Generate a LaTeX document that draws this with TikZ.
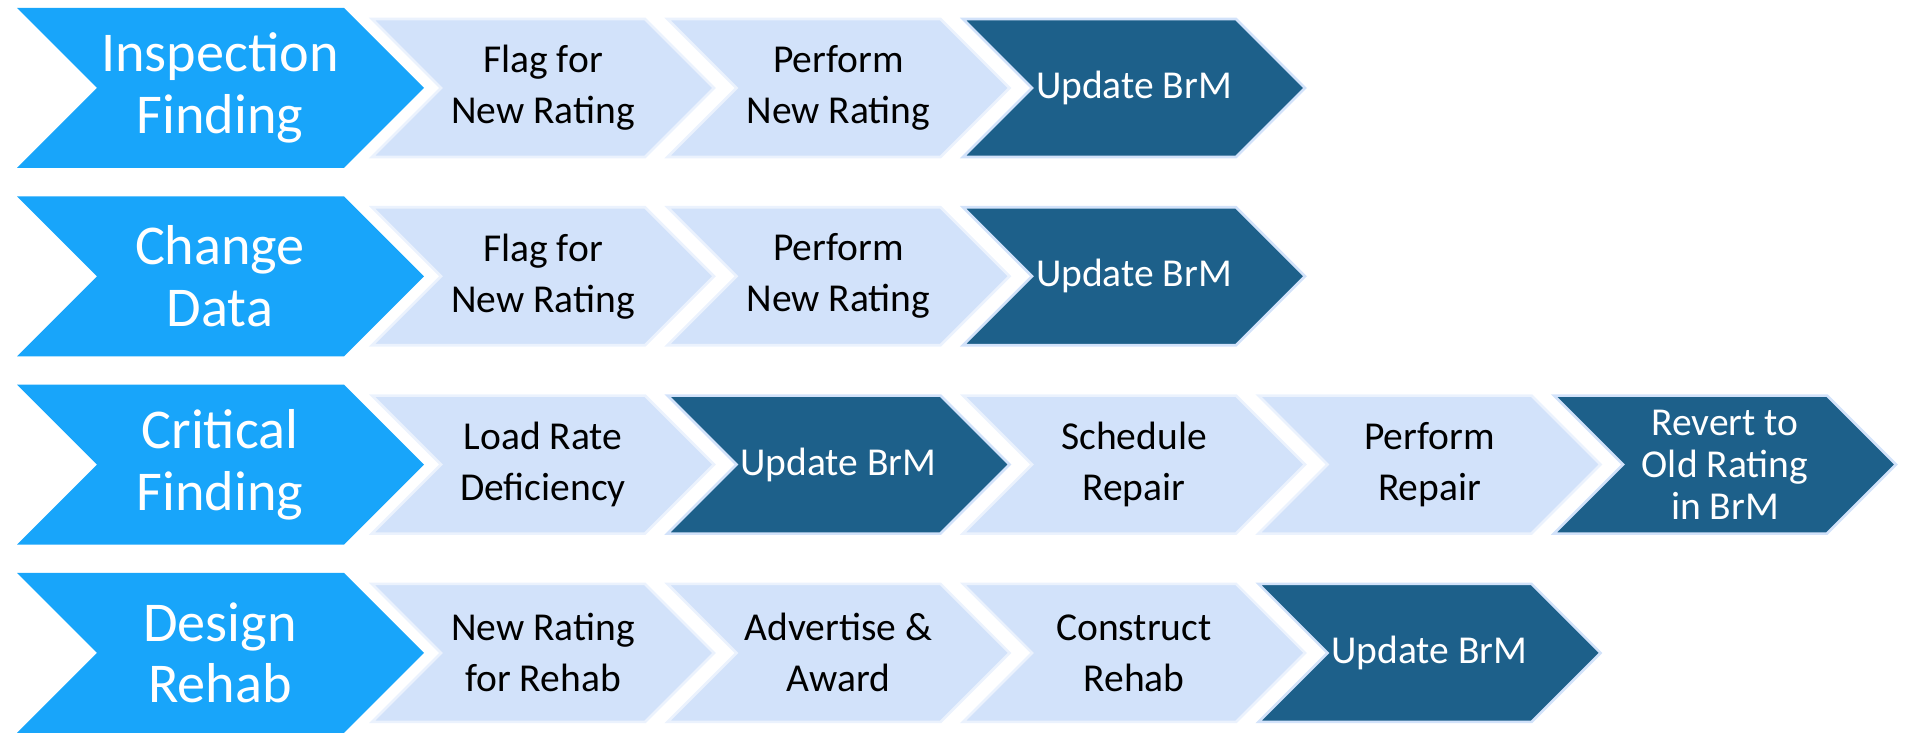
\documentclass[tikz,border=0pt]{standalone}
\usepackage{fontspec}
\setmainfont{Carlito}
\definecolor{bigblue}{RGB}{24,165,250}
\definecolor{paleblue}{RGB}{210,226,250}
\definecolor{darkblue}{RGB}{29,96,138}
% chevron of the first column: name, centre y, text
\newcommand{\bigchev}[3]{%
  \draw[big] (17,#2+80) -- ++(327,0) -- ++(80,-80) -- ++(-80,-80) -- ++(-327,0) -- ++(80,80) -- cycle;
  \node[big text] (#1) at (220,#2) {#3};}
% small chevron: style, name, column, centre y, text
\newcommand{\smallchev}[5]{%
  \pgfmathsetmacro\xl{372+295.5*#3}
  \draw[#1] (\xl,#4+69) -- ++(273,0) -- ++(69,-69) -- ++(-69,-69) -- ++(-273,0) -- ++(69,69) -- cycle;
  \node[#1 text] (#2) at (\xl+171,#4) {#5};}
\begin{document}
\begin{tikzpicture}[x=0.02cm, y=0.02cm, line join=miter,
  big/.style={fill=bigblue, draw=none},
  pale/.style={fill=paleblue, draw=white!55!paleblue, line width=1.5pt},
  dark/.style={fill=darkblue, draw=paleblue, line width=1.5pt},
  big text/.style={text=white, align=center, font=\fontsize{32}{35}\selectfont},
  pale text/.style={text=black, align=center, font=\fontsize{22.5}{29}\selectfont},
  dark text/.style={text=white, align=center, font=\fontsize{22.5}{29}\selectfont}]
\useasboundingbox (0,0) rectangle (1911,733);
\def\ya{645} \def\yb{456.7} \def\yc{268.4} \def\yd{80.1} % row centres
% row 1
\bigchev{insp}{\ya}{Inspection\\Finding}
\smallchev{pale}{flagA}{0}{\ya}{Flag for\\New Rating}
\smallchev{pale}{perfA}{1}{\ya}{Perform\\New Rating}
\smallchev{dark}{updA}{2}{\ya}{Update BrM}
% row 2
\bigchev{chg}{\yb}{Change\\Data}
\smallchev{pale}{flagB}{0}{\yb}{Flag for\\New Rating}
\smallchev{pale}{perfB}{1}{\yb}{Perform\\New Rating}
\smallchev{dark}{updB}{2}{\yb}{Update BrM}
% row 3
\bigchev{crit}{\yc}{Critical\\Finding}
\smallchev{pale}{load}{0}{\yc}{Load Rate\\Deficiency}
\smallchev{dark}{updC}{1}{\yc}{Update BrM}
\smallchev{pale}{sched}{2}{\yc}{Schedule\\Repair}
\smallchev{pale}{repair}{3}{\yc}{Perform\\Repair}
\smallchev{dark}{revert}{4}{\yc}{Revert to\\[-5pt]Old Rating\\[-5pt]in BrM}
% row 4
\bigchev{design}{\yd}{Design\\Rehab}
\smallchev{pale}{rehab}{0}{\yd}{New Rating\\for Rehab}
\smallchev{pale}{adv}{1}{\yd}{Advertise \&\\Award}
\smallchev{pale}{constr}{2}{\yd}{Construct\\Rehab}
\smallchev{dark}{updD}{3}{\yd}{Update BrM}
\end{tikzpicture}
\end{document}
